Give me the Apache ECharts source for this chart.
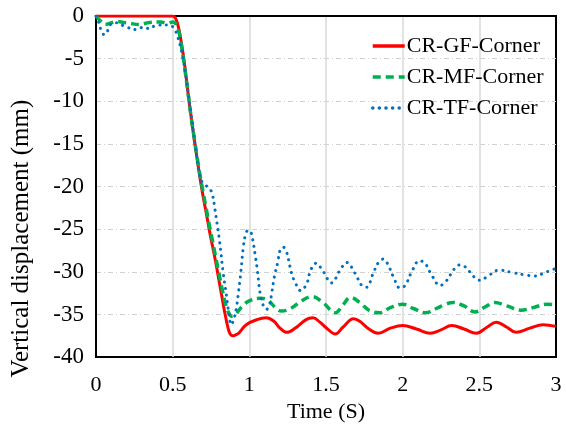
<!DOCTYPE html>
<html>
<head>
<meta charset="utf-8">
<script src="https://cdn.jsdelivr.net/npm/echarts@6/dist/echarts.min.js"></script>
<style>html,body{margin:0;padding:0;background:#fff}#c{width:566px;height:428px}</style>
</head>
<body>
<div id="c"></div>
<script>
const seriesNames = ['CR-GF-Corner', 'CR-MF-Corner', 'CR-TF-Corner'];
const xTicks = [0, 0.5, 1, 1.5, 2, 2.5, 3];
const yTicks = [-40, -35, -30, -25, -20, -15, -10, -5, 0];

const gfTime = [0, 0.5, 0.52, 0.54, 0.56, 0.58, 0.6, 0.62, 0.64, 0.66, 0.68, 0.7, 0.72, 0.74, 0.76, 0.78, 0.8, 0.82, 0.84, 0.86, 0.875, 0.89, 0.91, 0.93, 0.98, 1.05, 1.11, 1.16, 1.2, 1.245, 1.3, 1.37, 1.415, 1.46, 1.51, 1.56, 1.61, 1.68, 1.72, 1.78, 1.84, 1.92, 2.0, 2.09, 2.18, 2.25, 2.32, 2.4, 2.48, 2.55, 2.61, 2.68, 2.74, 2.83, 2.915, 3.0];
const gfDisp = [0, 0, -0.3, -1.5, -3.5, -6, -9, -11.8, -14.4, -16.8, -19.2, -21.3, -23.2, -25.2, -27.0, -28.8, -30.8, -32.8, -34.8, -36.5, -37.3, -37.5, -37.4, -37.2, -36.2, -35.6, -35.4, -35.8, -36.6, -37.1, -36.6, -35.6, -35.4, -35.9, -36.7, -37.3, -36.5, -35.5, -35.8, -36.7, -37.2, -36.6, -36.3, -36.7, -37.2, -36.8, -36.3, -36.7, -37.2, -36.5, -35.9, -36.5, -37.1, -36.6, -36.2, -36.4];

const mfTime = [0, 0.03, 0.06, 0.1, 0.135, 0.18, 0.22, 0.28, 0.35, 0.42, 0.47, 0.5, 0.52, 0.54, 0.56, 0.58, 0.6, 0.62, 0.64, 0.66, 0.68, 0.7, 0.72, 0.74, 0.76, 0.78, 0.8, 0.82, 0.84, 0.86, 0.885, 0.91, 0.95, 1.0, 1.07, 1.12, 1.17, 1.21, 1.27, 1.34, 1.41, 1.48, 1.56, 1.61, 1.66, 1.72, 1.78, 1.85, 1.92, 2.0, 2.07, 2.15, 2.22, 2.28, 2.33, 2.4, 2.47, 2.54, 2.6, 2.68, 2.77, 2.85, 2.94, 3.0];
const mfDisp = [0, -0.6, -1.0, -0.8, -0.65, -0.75, -0.85, -1.0, -0.75, -0.7, -0.85, -0.7, -0.9, -1.8, -3.8, -6.3, -9, -11.8, -14.2, -16.6, -18.8, -20.8, -22.7, -24.6, -26.4, -28.2, -30.0, -31.8, -33.4, -34.6, -35.2, -35.0, -34.1, -33.4, -33.1, -33.3, -34.2, -34.6, -34.3, -33.4, -32.9, -33.6, -34.8, -33.9, -33.0, -33.6, -34.5, -34.8, -34.2, -33.8, -34.3, -34.8, -34.3, -33.8, -33.6, -34.0, -34.7, -34.1, -33.6, -34.0, -34.5, -34.2, -33.8, -33.9];

const tfTime = [0, 0.01, 0.03, 0.055, 0.08, 0.1, 0.135, 0.18, 0.265, 0.31, 0.35, 0.39, 0.48, 0.51, 0.53, 0.56, 0.59, 0.62, 0.65, 0.67, 0.69, 0.71, 0.74, 0.76, 0.775, 0.79, 0.805, 0.83, 0.85, 0.865, 0.882, 0.9, 0.915, 0.93, 0.946, 0.961, 0.976, 0.993, 1.011, 1.022, 1.037, 1.052, 1.07, 1.09, 1.112, 1.13, 1.146, 1.163, 1.185, 1.2, 1.22, 1.24, 1.276, 1.298, 1.335, 1.374, 1.4, 1.435, 1.483, 1.535, 1.592, 1.635, 1.69, 1.733, 1.765, 1.805, 1.842, 1.874, 1.9, 1.94, 1.983, 2.016, 2.059, 2.109, 2.146, 2.19, 2.244, 2.283, 2.335, 2.37, 2.407, 2.472, 2.509, 2.548, 2.631, 2.718, 2.81, 2.853, 2.94, 3.0];
const tfDisp = [0, -0.3, -1.5, -2.2, -1.6, -0.9, -0.8, -1.15, -1.6, -1.3, -1.5, -1.1, -1.05, -1.5, -2.3, -4.3, -7.6, -11.5, -15.5, -18.2, -19.4, -19.8, -20.2, -21.0, -22.6, -24.4, -26.3, -30.2, -32.7, -34.7, -36.2, -35.5, -34.3, -32.3, -29.8, -27.1, -25.6, -25.1, -25.4, -26.2, -27.9, -29.8, -32.5, -33.9, -34.4, -34.0, -32.5, -30.6, -28.9, -27.5, -27.1, -27.5, -30.2, -31.2, -32.2, -31.4, -29.8, -29.0, -30.0, -31.3, -29.8, -28.9, -30.2, -31.6, -31.8, -30.3, -28.9, -28.5, -29.0, -30.6, -31.9, -31.6, -30.0, -28.7, -29.0, -30.4, -31.6, -31.1, -29.7, -29.2, -29.4, -30.7, -31.0, -30.6, -29.8, -30.1, -30.4, -30.5, -30.0, -29.6];

function pairs(t, v) { return t.map((x, i) => [x, v[i]]); }

const FONT = 'Liberation Serif';
const chart = echarts.init(document.getElementById('c'), null, { renderer: 'canvas' });
chart.setOption({
  backgroundColor: '#fff',
  animation: false,
  grid: { left: 96, right: 10, top: 16, bottom: 67, show: true, borderColor: '#000', borderWidth: 2, backgroundColor: 'transparent' },
  legend: {
    orient: 'vertical', left: 366, top: 30, itemWidth: 32, itemHeight: 14, itemGap: 9,
    itemStyle: { opacity: 0 },
    lineStyle: { width: 3.5 },
    textStyle: { fontFamily: FONT, fontSize: 22, color: '#000', padding: [0, 0, 0, -3] },
    data: seriesNames
  },
  xAxis: {
    type: 'value', min: xTicks[0], max: xTicks[xTicks.length - 1], interval: 0.5,
    name: 'Time (S)', nameLocation: 'middle', nameGap: 40,
    nameTextStyle: { fontFamily: FONT, fontSize: 22, color: '#000' },
    axisLine: { show: true, lineStyle: { color: '#000', width: 2 } },
    axisTick: { show: false },
    axisLabel: { fontFamily: FONT, fontSize: 22, color: '#000', margin: 17 },
    splitLine: { show: true, showMinLine: false, showMaxLine: false, lineStyle: { color: '#d9d9d9', width: 1.5 } }
  },
  yAxis: {
    type: 'value', min: yTicks[0], max: yTicks[yTicks.length - 1], interval: 5,
    name: 'Vertical displacement (mm)', nameLocation: 'middle', nameGap: 62,
    nameTextStyle: { fontFamily: FONT, fontSize: 25, color: '#000', padding: [0, 104, 0, 0] },
    axisLine: { show: true, lineStyle: { color: '#000', width: 2 } },
    axisTick: { show: false },
    axisLabel: { fontFamily: FONT, fontSize: 23, color: '#000', margin: 12 },
    splitLine: { show: true, showMinLine: false, showMaxLine: false, lineStyle: { color: '#d0d0d0', width: 1, type: [5, 3, 1, 3] } }
  },
  series: [
    { name: seriesNames[0], type: 'line', data: pairs(gfTime, gfDisp), smooth: 0.4, symbol: 'none',
      lineStyle: { color: '#ff0000', width: 3 }, itemStyle: { color: '#ff0000' } },
    { name: seriesNames[1], type: 'line', data: pairs(mfTime, mfDisp), smooth: 0.4, symbol: 'none',
      lineStyle: { color: '#00b050', width: 3.5, type: [8, 5] }, itemStyle: { color: '#00b050' } },
    { name: seriesNames[2], type: 'line', data: pairs(tfTime, tfDisp), smooth: 0.4, symbol: 'none',
      lineStyle: { color: '#0070c0', width: 3, type: [0.1, 6.5], cap: 'round' }, itemStyle: { color: '#0070c0' } }
  ]
});
</script>
</body>
</html>
